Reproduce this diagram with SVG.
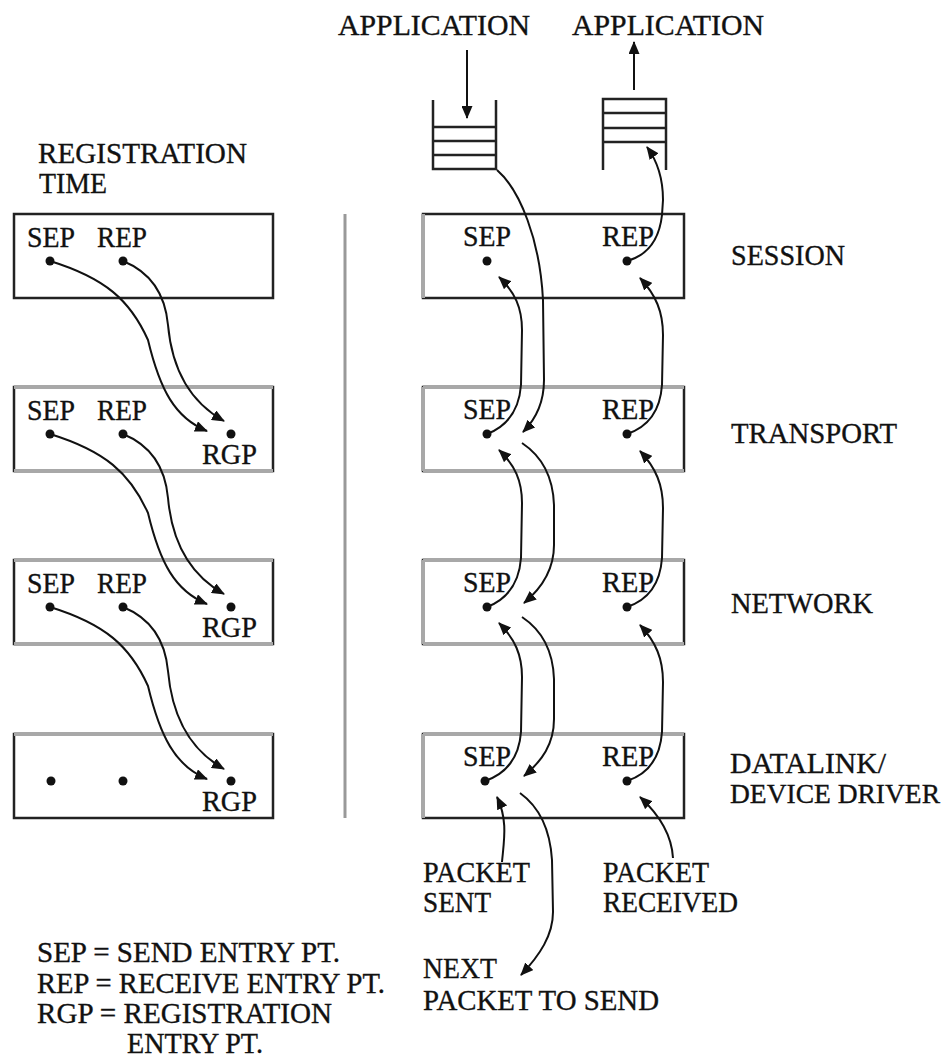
<svg xmlns="http://www.w3.org/2000/svg" width="952" height="1060" viewBox="0 0 952 1060">
<defs>
<style>
text{font-family:"Liberation Serif","Times New Roman",serif;font-size:30px;fill:#111;stroke:#111;stroke-width:0.35}
.box{fill:#fff;stroke:#222;stroke-width:2.5}
.gray{stroke:#a8a8a8;stroke-width:4;fill:none}
.q{stroke:#222;stroke-width:2.5;fill:none}
.dot{fill:#111}
.ca{fill:none;stroke:#111;stroke-width:2;marker-end:url(#ah)}
</style>
<marker id="ah" markerWidth="13" markerHeight="11" viewBox="0 0 13 11" refX="12" refY="5.5" orient="auto" markerUnits="userSpaceOnUse">
<path d="M0,0 L13,5.5 L0,11 Z" fill="#111"/>
</marker>
</defs>
<rect width="952" height="1060" fill="#fff"/>

<!-- titles -->
<g id="app-send"><text x="338" y="35" textLength="192" lengthAdjust="spacingAndGlyphs">APPLICATION</text></g>
<g id="app-recv"><text x="572" y="35" textLength="192" lengthAdjust="spacingAndGlyphs">APPLICATION</text></g>
<g id="reg-title"><text x="38" y="163" textLength="209" lengthAdjust="spacingAndGlyphs">REGISTRATION</text><text x="39" y="193" textLength="68" lengthAdjust="spacingAndGlyphs">TIME</text></g>

<!-- queues -->
<g id="queue-send">
<path class="q" d="M433,100 V169 H496 V100 M433,127 H496 M433,141 H496 M433,155 H496"/>
</g>
<g id="queue-recv">
<path class="q" d="M603,170 V99 H666 V170 M603,113 H666 M603,128 H666 M603,142 H666"/>
</g>

<!-- divider -->
<line x1="345" y1="214" x2="345" y2="818" stroke="#999" stroke-width="3"/>

<!-- left registration boxes -->
<g id="reg-1">
<rect class="box" x="14" y="214" width="259" height="84"/>
<text x="27" y="247" textLength="48" lengthAdjust="spacingAndGlyphs">SEP</text><text x="97" y="247" textLength="50" lengthAdjust="spacingAndGlyphs">REP</text>
<circle class="dot" cx="50" cy="261" r="4.5"/><circle class="dot" cx="123" cy="261" r="4.5"/>
</g>
<g id="reg-2">
<rect class="box" x="14" y="387" width="259" height="84"/>
<line class="gray" x1="14" y1="387" x2="273" y2="387"/><line class="gray" x1="14" y1="471" x2="273" y2="471"/>
<text x="27" y="420" textLength="48" lengthAdjust="spacingAndGlyphs">SEP</text><text x="97" y="420" textLength="50" lengthAdjust="spacingAndGlyphs">REP</text><text x="202" y="464" textLength="55" lengthAdjust="spacingAndGlyphs">RGP</text>
<circle class="dot" cx="50" cy="434" r="4.5"/><circle class="dot" cx="123" cy="434" r="4.5"/><circle class="dot" cx="231" cy="434" r="4.5"/>
</g>
<g id="reg-3">
<rect class="box" x="14" y="560" width="259" height="84"/>
<line class="gray" x1="14" y1="560" x2="273" y2="560"/><line class="gray" x1="14" y1="644" x2="273" y2="644"/>
<text x="27" y="593" textLength="48" lengthAdjust="spacingAndGlyphs">SEP</text><text x="97" y="593" textLength="50" lengthAdjust="spacingAndGlyphs">REP</text><text x="202" y="637" textLength="55" lengthAdjust="spacingAndGlyphs">RGP</text>
<circle class="dot" cx="50" cy="607" r="4.5"/><circle class="dot" cx="123" cy="607" r="4.5"/><circle class="dot" cx="231" cy="607" r="4.5"/>
</g>
<g id="reg-4">
<rect class="box" x="14" y="734" width="259" height="84"/>
<line class="gray" x1="14" y1="734" x2="273" y2="734"/>
<text x="202" y="811" textLength="55" lengthAdjust="spacingAndGlyphs">RGP</text>
<circle class="dot" cx="51" cy="781" r="4.5"/><circle class="dot" cx="123" cy="781" r="4.5"/><circle class="dot" cx="231" cy="781" r="4.5"/>
</g>

<!-- right protocol layer boxes -->
<g id="layer-session">
<rect class="box" x="423" y="214" width="261" height="84"/>
<line class="gray" x1="423" y1="214" x2="423" y2="298"/>
<text x="463" y="246" textLength="48" lengthAdjust="spacingAndGlyphs">SEP</text><text x="602" y="246" textLength="52" lengthAdjust="spacingAndGlyphs">REP</text>
<circle class="dot" cx="487" cy="261" r="4.5"/><circle class="dot" cx="627" cy="261" r="4.5"/>
<text x="731" y="265" textLength="114" lengthAdjust="spacingAndGlyphs">SESSION</text>
</g>
<g id="layer-transport">
<rect class="box" x="423" y="387" width="261" height="84"/>
<line class="gray" x1="423" y1="387" x2="684" y2="387"/><line class="gray" x1="423" y1="471" x2="684" y2="471"/><line class="gray" x1="423" y1="387" x2="423" y2="471"/>
<text x="463" y="419" textLength="48" lengthAdjust="spacingAndGlyphs">SEP</text><text x="602" y="419" textLength="52" lengthAdjust="spacingAndGlyphs">REP</text>
<circle class="dot" cx="487" cy="434" r="4.5"/><circle class="dot" cx="627" cy="434" r="4.5"/>
<text x="731" y="443" textLength="166" lengthAdjust="spacingAndGlyphs">TRANSPORT</text>
</g>
<g id="layer-network">
<rect class="box" x="423" y="560" width="261" height="84"/>
<line class="gray" x1="423" y1="560" x2="684" y2="560"/><line class="gray" x1="423" y1="644" x2="684" y2="644"/><line class="gray" x1="423" y1="560" x2="423" y2="644"/>
<text x="463" y="592" textLength="48" lengthAdjust="spacingAndGlyphs">SEP</text><text x="602" y="592" textLength="52" lengthAdjust="spacingAndGlyphs">REP</text>
<circle class="dot" cx="487" cy="607" r="4.5"/><circle class="dot" cx="627" cy="607" r="4.5"/>
<text x="731" y="613" textLength="142" lengthAdjust="spacingAndGlyphs">NETWORK</text>
</g>
<g id="layer-datalink">
<rect class="box" x="423" y="734" width="261" height="84"/>
<line class="gray" x1="423" y1="734" x2="684" y2="734"/><line class="gray" x1="423" y1="734" x2="423" y2="818"/>
<text x="463" y="766" textLength="48" lengthAdjust="spacingAndGlyphs">SEP</text><text x="602" y="766" textLength="52" lengthAdjust="spacingAndGlyphs">REP</text>
<circle class="dot" cx="485" cy="781" r="4.5"/><circle class="dot" cx="627" cy="781" r="4.5"/>
<text x="730" y="773" textLength="156" lengthAdjust="spacingAndGlyphs">DATALINK/</text>
<text x="730" y="803" style="font-size:28px" textLength="210" lengthAdjust="spacingAndGlyphs">DEVICE DRIVER</text>
</g>

<!-- bottom labels -->
<g id="lbl-sent"><text x="423" y="882" textLength="107" lengthAdjust="spacingAndGlyphs">PACKET</text><text x="423" y="912" textLength="68" lengthAdjust="spacingAndGlyphs">SENT</text></g>
<g id="lbl-received"><text x="603" y="882" textLength="106" lengthAdjust="spacingAndGlyphs">PACKET</text><text x="603" y="912" textLength="135" lengthAdjust="spacingAndGlyphs">RECEIVED</text></g>
<g id="lbl-next"><text x="423" y="978" textLength="74" lengthAdjust="spacingAndGlyphs">NEXT</text><text x="423" y="1010" textLength="236" lengthAdjust="spacingAndGlyphs">PACKET TO SEND</text></g>
<g id="legend">
<text x="37" y="962" textLength="303" lengthAdjust="spacingAndGlyphs">SEP = SEND ENTRY PT.</text>
<text x="37" y="993" textLength="348" lengthAdjust="spacingAndGlyphs">REP = RECEIVE ENTRY PT.</text>
<text x="37" y="1023" textLength="295" lengthAdjust="spacingAndGlyphs">RGP = REGISTRATION</text>
<text x="127" y="1053" textLength="136" lengthAdjust="spacingAndGlyphs">ENTRY PT.</text>
</g>

<!-- connectors -->
<g id="connectors">
<!-- application arrows -->
<line class="ca" x1="467" y1="50" x2="467" y2="118"/>
<line class="ca" x1="634" y1="90" x2="634" y2="42"/>

<!-- registration time (left) -->
<path class="ca" d="M50,261 C105,278 130,300 148,340 C160,390 175,418 207,431"/>
<path class="ca" d="M123,261 C150,272 165,292 168,325 C172,370 190,402 224,421"/>
<path class="ca" d="M50,434 C105,451 130,473 148,513 C160,563 175,591 207,604"/>
<path class="ca" d="M123,434 C150,445 165,465 168,498 C172,543 190,575 224,594"/>
<path class="ca" d="M50,607 C105,624 130,646 148,686 C160,736 175,766 207,779"/>
<path class="ca" d="M123,607 C150,618 165,638 168,671 C172,716 190,750 224,769"/>

<!-- send path (down) -->
<path class="ca" d="M497,170 C520,190 540,240 543,300 L544,380 C544,400 537,418 523,432"/>
<path class="ca" d="M522,443 C540,455 553,475 554,505 L554,545 C554,570 542,588 524,603"/>
<path class="ca" d="M522,617 C540,629 553,649 554,679 L554,719 C554,744 542,761 524,776"/>
<path class="ca" d="M520,793 C538,806 550,828 552,860 L553,912 C553,935 540,955 521,975"/>

<!-- SEP up arrows -->
<path class="ca" d="M487,434 C505,427 519,412 521,385 L522,330 C522,308 515,292 499,277"/>
<path class="ca" d="M487,607 C505,600 519,585 521,558 L522,503 C522,481 515,465 499,450"/>
<path class="ca" d="M485,781 C505,774 519,759 521,732 L522,677 C522,655 515,639 499,623"/>
<path class="ca" d="M502,862 C504,840 508,820 497,797"/>

<!-- REP up arrows -->
<path class="ca" d="M627,261 C645,256 659,242 662,215 L663,200 C663,180 658,162 647,147"/>
<path class="ca" d="M627,434 C645,428 660,414 662,385 L663,335 C663,312 656,295 640,278"/>
<path class="ca" d="M627,607 C645,601 660,587 662,558 L663,508 C663,485 656,468 640,451"/>
<path class="ca" d="M627,781 C645,775 660,761 662,732 L663,682 C663,659 656,642 640,625"/>
<path class="ca" d="M673,858 C672,840 665,820 640,797"/>
</g>
</svg>
